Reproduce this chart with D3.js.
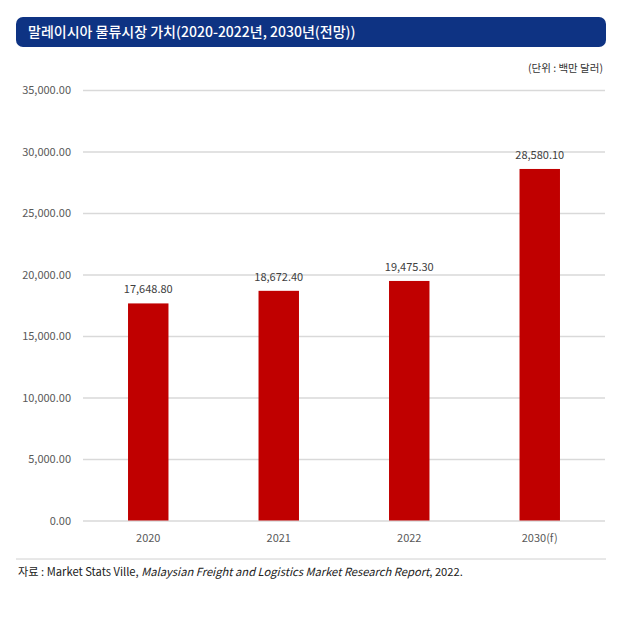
<!DOCTYPE html>
<html>
<head>
    <meta charset="utf-8">
    <script src="https://d3js.org/d3.v7.min.js"></script>
    <style>
        body { margin: 0; background: #ffffff; }
        svg text { font-family: 'Noto Sans CJK KR', sans-serif; }
    </style>
</head>
<body>
<div id="chart"></div>
<script>
    const titleText = "말레이시아 물류시장 가치(2020-2022년, 2030년(전망))";
    const unitText = "(단위 : 백만 달러)";
    const categories = ["2020", "2021", "2022", "2030(f)"];
    const values = [17648.80, 18672.40, 19475.30, 28580.10];
    const yTicks = [0, 5000, 10000, 15000, 20000, 25000, 30000, 35000];

    const W = 636, H = 618;
    const margin = {top: 90, right: 31, bottom: 98, left: 83},
        width = W - margin.left - margin.right,
        height = 520.5 - margin.top;

    const svg = d3.select("#chart")
        .append("svg")
            .attr("width", W)
            .attr("height", H);

    // title bar
    svg.append("rect")
        .attr("x", 16).attr("y", 17)
        .attr("width", 590).attr("height", 30)
        .attr("rx", 7)
        .style("fill", "#0e3383");
    svg.append("text")
        .attr("x", 28).attr("y", 37)
        .style("font-size", "14px")
        .style("font-weight", "500")
        .style("fill", "#ffffff")
        .text(titleText);

    svg.append("text")
        .attr("x", 603).attr("y", 72)
        .attr("text-anchor", "end")
        .style("font-size", "10.5px")
        .style("fill", "#333")
        .text(unitText);

    const g = svg.append("g")
        .attr("transform", "translate(" + margin.left + "," + margin.top + ")");

    const x = d3.scaleBand()
        .domain(categories)
        .range([0, width])
        .paddingInner(0.69)
        .paddingOuter(0.345);

    const y = d3.scaleLinear()
        .domain([0, 35000])
        .range([height, 0]);

    // gridlines + y labels
    const yAxis = g.append("g")
        .call(d3.axisLeft(y)
            .tickValues(yTicks)
            .tickSize(-width)
            .tickPadding(12)
            .tickFormat(d3.format(",.2f")));
    yAxis.select(".domain").remove();
    yAxis.selectAll("line").style("stroke", "#d9d9d9").style("stroke-width", 1.3);
    yAxis.selectAll("text")
        .style("font-size", "11px")
        .style("fill", "#595959");

    g.selectAll(".bar")
        .data(values)
        .enter().append("rect")
        .attr("class", "bar")
        .attr("x", (d, i) => x(categories[i]))
        .attr("y", d => y(d))
        .attr("width", x.bandwidth())
        .attr("height", d => height - y(d))
        .style("fill", "#c00000");

    g.selectAll(".val")
        .data(values)
        .enter().append("text")
        .attr("class", "val")
        .attr("x", (d, i) => x(categories[i]) + x.bandwidth() / 2)
        .attr("y", d => y(d) - 10)
        .attr("text-anchor", "middle")
        .style("font-size", "11px")
        .style("fill", "#404040")
        .text(d => d3.format(",.2f")(d));

    const xAxis = g.append("g")
        .attr("transform", "translate(0," + height + ")")
        .call(d3.axisBottom(x).tickSize(0).tickPadding(14));
    xAxis.select(".domain").remove();
    xAxis.selectAll("text")
        .style("font-size", "11px")
        .style("fill", "#595959");

    // source line
    svg.append("line")
        .attr("x1", 16).attr("x2", 606)
        .attr("y1", 559).attr("y2", 559)
        .style("stroke", "#d0d0d0")
        .style("stroke-width", 1);

    const src = svg.append("text")
        .attr("x", 18).attr("y", 576)
        .style("font-size", "11.2px")
        .style("fill", "#222");
    src.append("tspan").text("자료 : Market Stats Ville, ");
    src.append("tspan").style("font-style", "italic").text("Malaysian Freight and Logistics Market Research Report");
    src.append("tspan").text(", 2022.");
</script>
</body>
</html>
